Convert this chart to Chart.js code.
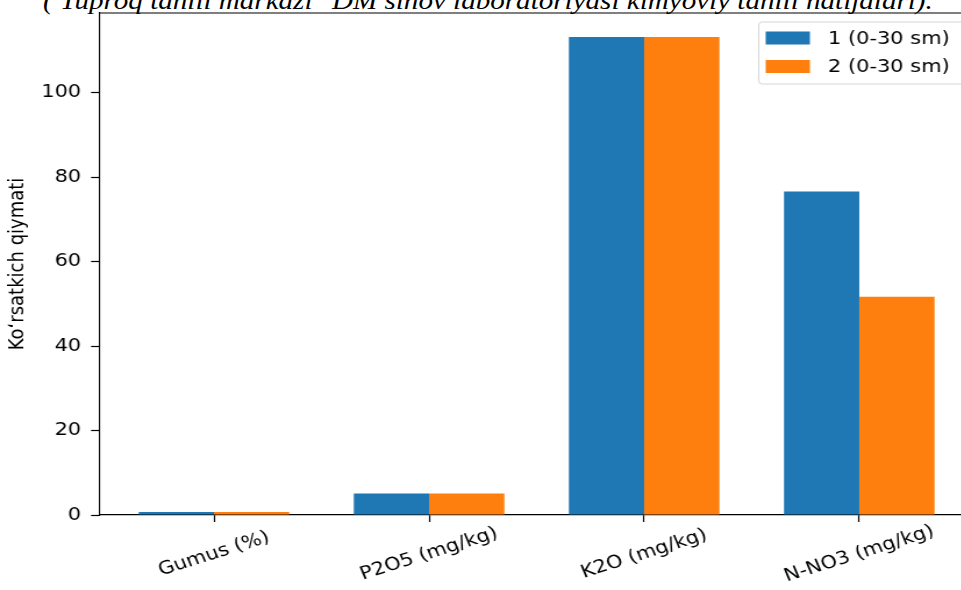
<!DOCTYPE html>
<html>
<head>
<meta charset="utf-8">
<script src="https://cdn.jsdelivr.net/npm/chart.js@4"></script>
<style>
  html, body { margin: 0; padding: 0; background: #fff; overflow: hidden; width: 961px; height: 590px; }
  #caption {
    position: absolute; left: 43px; top: -12.3px;
    font: italic 25px "Liberation Serif", serif; line-height: 25px;
    white-space: nowrap; color: #000;
    transform-origin: 0 0; transform: scaleX(1.163);
  }
  #chart { position: absolute; left: 0; top: 0; }
</style>
</head>
<body>
<div id="caption">( Tuproq tahlil markazi "DM sinov laboratoriyasi kimyoviy tahlil natijalari).</div>
<!-- the reference picture is stretched sideways, so the canvas is too -->
<canvas id="chart" width="860" height="590" style="width:1000px;height:590px"></canvas>
<script>
// data
const categories = ['Gumus (%)', 'P2O5 (mg/kg)', 'K2O (mg/kg)', 'N-NO3 (mg/kg)'];
const seriesNames = ['1 (0-30 sm)', '2 (0-30 sm)'];
const sample1 = [0.7, 5.1, 113.2, 76.6];
const sample2 = [0.7, 5.1, 113.2, 51.7];
const yTicks = [0, 20, 40, 60, 80, 100];
const yTitle = 'Koʻrsatkich qiymati';

const colors = ['#1f77b4', '#ff7f0e'];
const yMax = Math.max(...sample1, ...sample2) * 1.05;

Chart.defaults.font.family = '"DejaVu Sans", sans-serif';
Chart.defaults.color = '#000';

// x labels: rotated 20deg around their centre like matplotlib
const xLabelsPlugin = {
  id: 'xLabels',
  afterDraw(chart) {
    const ctx = chart.ctx;
    const x = chart.scales.x;
    const y0 = chart.chartArea.bottom + 39;
    ctx.save();
    ctx.font = '18px "DejaVu Sans"';
    ctx.fillStyle = '#000';
    ctx.textAlign = 'center';
    ctx.textBaseline = 'middle';
    categories.forEach((c, i) => {
      ctx.save();
      ctx.translate(x.getPixelForValue(i), y0);
      ctx.rotate(-20 * Math.PI / 180);
      ctx.fillText(c, 0, 0);
      ctx.restore();
    });
    ctx.restore();
  }
};

// top/right spines + matplotlib style legend
const framePlugin = {
  id: 'frame',
  afterDraw(chart) {
    const ctx = chart.ctx;
    const a = chart.chartArea;
    ctx.save();
    ctx.strokeStyle = '#000';
    ctx.lineWidth = 1.2;
    ctx.beginPath();
    ctx.moveTo(a.left, a.top);
    ctx.lineTo(a.right, a.top);
    ctx.lineTo(a.right, a.bottom);
    ctx.stroke();

    const bx = 652.5, by = 22, bw = 179, bh = 62;
    ctx.beginPath();
    ctx.roundRect(bx, by, bw, bh, 3);
    ctx.fillStyle = 'rgba(255,255,255,0.8)';
    ctx.fill();
    ctx.strokeStyle = '#d5d5d5';
    ctx.lineWidth = 1;
    ctx.stroke();

    ctx.font = '18px "DejaVu Sans"';
    ctx.textAlign = 'left';
    ctx.textBaseline = 'middle';
    chart.data.datasets.forEach((ds, i) => {
      const cy = by + 16 + i * 28.5;
      ctx.fillStyle = ds.backgroundColor;
      ctx.fillRect(bx + 6, cy - 6.5, 38, 13);
      ctx.fillStyle = '#000';
      ctx.fillText(ds.label, bx + 59.5, cy + 1);
    });
    ctx.restore();
  }
};

new Chart(document.getElementById('chart'), {
  type: 'bar',
  data: {
    datasets: [
      { label: seriesNames[0], data: sample1.map((v, i) => ({ x: i, y: v })), backgroundColor: colors[0] },
      { label: seriesNames[1], data: sample2.map((v, i) => ({ x: i, y: v })), backgroundColor: colors[1] }
    ]
  },
  options: {
    responsive: false,
    animation: false,
    layout: { padding: { top: 13, right: 23, bottom: 0, left: 0 } },
    datasets: { bar: { categoryPercentage: 0.7, barPercentage: 1.0, borderWidth: 0 } },
    plugins: { legend: { display: false }, tooltip: { enabled: false } },
    scales: {
      x: {
        type: 'linear',
        min: -0.53,
        max: 3.53,
        offset: false,
        afterBuildTicks: s => { s.ticks = categories.map((c, i) => ({ value: i })); },
        afterFit: s => { s.height = 75; s.paddingLeft = 0; s.paddingRight = 0; },
        ticks: { callback: () => '', autoSkip: false, maxRotation: 0 },
        grid: { offset: false, drawOnChartArea: false, drawTicks: true, tickLength: 7, tickColor: '#000', tickWidth: 1.2 },
        border: { display: true, color: '#000', width: 1.2 }
      },
      y: {
        min: 0,
        max: yMax,
        afterBuildTicks: s => { s.ticks = yTicks.map(v => ({ value: v })); },
        afterFit: s => { s.width = 86; s.paddingTop = 0; s.paddingBottom = 0; },
        ticks: { font: { size: 18 }, color: '#000', padding: 8.5 },
        grid: { drawOnChartArea: false, drawTicks: true, tickLength: 7.7, tickColor: '#000', tickWidth: 1.2 },
        border: { display: true, color: '#000', width: 1.1 },
        title: { display: true, text: yTitle, font: { size: 18 }, color: '#000', padding: { top: 5, bottom: 0 } }
      }
    }
  },
  plugins: [xLabelsPlugin, framePlugin]
});
</script>
</body>
</html>
